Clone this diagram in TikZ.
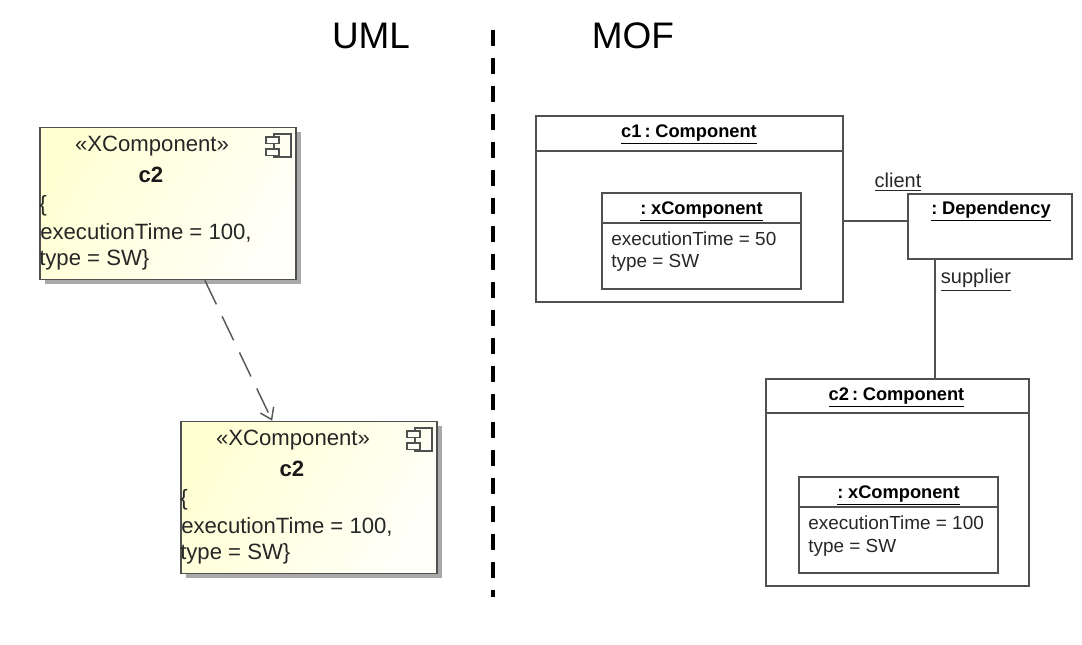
\documentclass[tikz,border=0pt]{standalone}
\usepackage{fontspec}
\setmainfont{Liberation Sans}
\newfontfamily\titlefont[WordSpace=0.6]{Liberation Sans}
\usepackage{xcolor}
\usepackage{tikz}
\usetikzlibrary{arrows.meta, positioning, shadows}
\definecolor{umlline}{RGB}{80, 80, 80}
\definecolor{umlyellow}{RGB}{255, 255, 212}
\definecolor{umlpale}{RGB}{255, 255, 248}
\tikzset{
  xcompbox/.style={draw=umlline, line width=1.2pt, minimum width=192pt, minimum height=114pt,
    left color=umlyellow, right color=umlpale, shading angle=60,
    drop shadow={shadow xshift=3.5pt, shadow yshift=-3.5pt, fill=black!45, opacity=0.75}},
  objbox/.style={draw=umlline, line width=0.8pt, inner sep=0pt},
  xcomptext/.style={font=\fontsize{16.6}{18}\selectfont, text=black!85, inner sep=0pt},
  xcomptitle/.style={font=\fontsize{16.6}{18}\selectfont\bfseries, text=black!90, inner sep=0pt},
  objtext/.style={font=\fontsize{14.2}{18}\selectfont, text=black!85, inner sep=0pt},
  linktext/.style={font=\fontsize{15}{18}\selectfont, text=black!85, inner sep=0pt},
  objtitle/.style={font=\titlefont\fontsize{13.7}{15}\selectfont\bfseries, text=black, inner sep=0pt},
  bigtitle/.style={font=\fontsize{27.7}{30}\selectfont, inner sep=0pt},
  dep/.style={draw=umlline, line width=0.8pt},
}
\begin{document}
\begin{tikzpicture}[x=0.75pt, y=-0.75pt]
\useasboundingbox (0,0) rectangle (1082,645);

% Titles
\node[bigtitle] (umltitle) at (371,36) {UML};
\node[bigtitle] (moftitle) at (633,36) {MOF};
\draw[line width=3pt, dash pattern=on 12pt off 9pt] (493,30) -- (493,597);

% UML side
\foreach \name/\cx/\cy in {umlfirst/168/203.5, umlsecond/309/497.5} {
  \node[xcompbox] (\name) at (\cx,\cy) {};
  \node[xcomptext] (\name stereo) at (\cx-16,\cy-57) {«XComponent»};
  \node[xcomptitle] (\name label) at (\cx-17,\cy-29) {c2};
  \node[xcomptext, anchor=west] (\name brace) at (\cx-129,\cy+2) {\{};
  \node[xcomptext, anchor=west] (\name time) at (\cx-128,\cy+29) {executionTime = 100,};
  \node[xcomptext, anchor=west] (\name type) at (\cx-129,\cy+56) {type = SW\}};
  % component icon
  \draw[umlline, line width=0.8pt] (\cx+106,\cy-69.5) rectangle (\cx+123,\cy-46.5);
  \draw[umlline, line width=0.8pt, fill=umlpale] (\cx+98,\cy-66.5) rectangle (\cx+111,\cy-60);
  \draw[umlline, line width=0.8pt, fill=umlpale] (\cx+98,\cy-54.5) rectangle (\cx+111,\cy-48);
}
\draw[black!65, line width=1.1pt, dash pattern=on 20pt off 10pt, -{Straight Barb[length=8pt, width=11pt]}]
  (umlfirst) -- (umlsecond);

% MOF side: c1
\node[objbox, minimum width=230.25pt, minimum height=139.5pt] (c1box) at (689.5,209) {};
\draw[dep] (536,151) -- (843,151);
\node[objtitle] (c1title) at (689,134) {\underline{c1 : Component}};
\node[objbox, minimum width=149.25pt, minimum height=72pt] (c1inner) at (701.5,241) {};
\draw[dep] (602,223) -- (801,223);
\node[objtitle] (c1innertitle) at (701.5,211) {\underline{: xComponent}};
\node[objtext, anchor=west] (c1time) at (611,239) {executionTime = 50};
\node[objtext, anchor=west] (c1type) at (611,263) {type = SW};

% MOF side: dependency
\node[objbox, minimum width=123pt, minimum height=48.75pt] (depbox) at (990,226.5) {};
\node[objtitle] (deptitle) at (991,211) {\underline{: Dependency}};

% MOF side: c2
\node[objbox, minimum width=197.25pt, minimum height=155.25pt] (c2box) at (897.5,482.5) {};
\draw[dep] (766,413) -- (1029,413);
\node[objtitle] (c2title) at (896.5,397) {\underline{c2 : Component}};
\node[objbox, minimum width=149.25pt, minimum height=72pt] (c2inner) at (898.5,525) {};
\draw[dep] (799,507) -- (998,507);
\node[objtitle] (c2innertitle) at (898.5,495) {\underline{: xComponent}};
\node[objtext, anchor=west] (c2time) at (808,523) {executionTime = 100};
\node[objtext, anchor=west] (c2type) at (808,548) {type = SW};

% Links
\coordinate (clientend) at (908,221);
\coordinate (supplierend) at (935,259);
\draw[dep] (clientend) -- (clientend -| c1box.east);
\draw[dep] (supplierend) -- (supplierend |- c2box.north);
\node[linktext] (clientlabel) at (898,182) {\underline{client}};
\node[linktext] (supplierlabel) at (976,280) {\underline{supplier}};
\end{tikzpicture}
\end{document}
